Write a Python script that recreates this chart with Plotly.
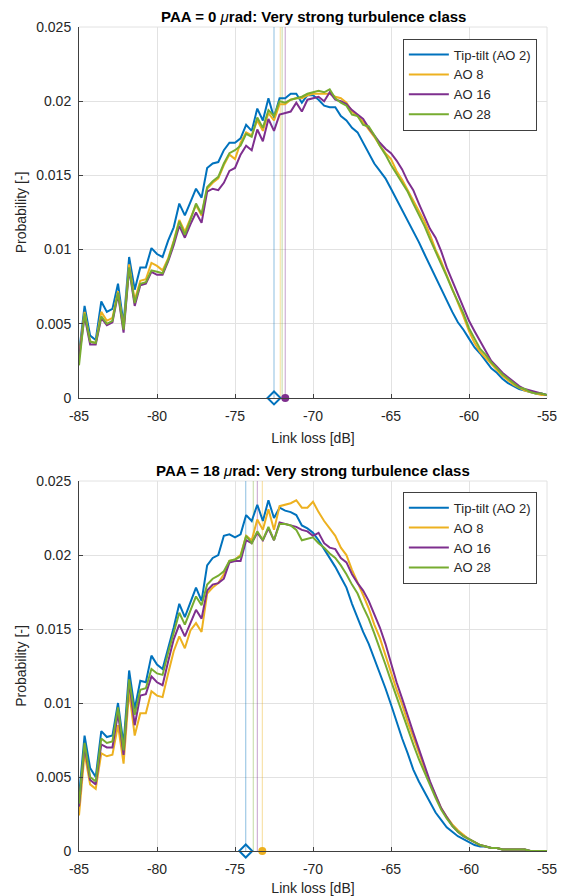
import numpy as np
import plotly.graph_objects as go

# ---------------- data ----------------
bin_start, bin_end, n_bins = -85.0, -55.0, 85
link_loss = np.linspace(bin_start, bin_end, n_bins)

series_names = ["Tip-tilt (AO 2)", "AO 8", "AO 16", "AO 28"]
series_colors = ["#0072BD", "#EDB120", "#7E2F8E", "#77AC30"]

# PAA = 0 urad
top_tiptilt = [0.0030, 0.0062, 0.0042, 0.0039, 0.0065, 0.0058, 0.0060, 0.0077, 0.0050, 0.0095,
               0.0073, 0.0088, 0.0088, 0.0101, 0.0097, 0.0095, 0.0106, 0.0115, 0.0131, 0.0123,
               0.0132, 0.0141, 0.0135, 0.0155, 0.0158, 0.0159, 0.0167, 0.0172, 0.0172, 0.0175,
               0.0184, 0.0180, 0.0195, 0.0187, 0.0202, 0.0189, 0.0202, 0.0202, 0.0205, 0.0205,
               0.0199, 0.0204, 0.0204, 0.0201, 0.0197, 0.0196, 0.0196, 0.0190, 0.0187, 0.0182,
               0.0179, 0.0172, 0.0166, 0.0158, 0.0153, 0.0148, 0.0141, 0.0134, 0.0127, 0.0120,
               0.0112, 0.0105, 0.0097, 0.0089, 0.0081, 0.0073, 0.0065, 0.0058, 0.0051, 0.0046,
               0.0040, 0.0034, 0.0030, 0.0025, 0.0020, 0.0017, 0.0013, 0.0010, 0.0008, 0.0006,
               0.0005, 0.0004, 0.0003, 0.0003, 0.0002]
top_ao8 = [0.0028, 0.0058, 0.0038, 0.0037, 0.0058, 0.0052, 0.0054, 0.0072, 0.0047, 0.0090,
           0.0066, 0.0079, 0.0080, 0.0091, 0.0089, 0.0086, 0.0094, 0.0106, 0.0120, 0.0112,
           0.0121, 0.0130, 0.0123, 0.0141, 0.0145, 0.0148, 0.0157, 0.0164, 0.0161, 0.0172,
           0.0179, 0.0177, 0.0187, 0.0180, 0.0192, 0.0187, 0.0198, 0.0198, 0.0201, 0.0202,
           0.0202, 0.0204, 0.0205, 0.0205, 0.0205, 0.0205, 0.0203, 0.0202, 0.0199, 0.0193,
           0.0190, 0.0186, 0.0181, 0.0176, 0.0170, 0.0165, 0.0161, 0.0153, 0.0147, 0.0140,
           0.0134, 0.0127, 0.0119, 0.0110, 0.0100, 0.0092, 0.0083, 0.0073, 0.0064, 0.0055,
           0.0045, 0.0037, 0.0031, 0.0027, 0.0023, 0.0019, 0.0015, 0.0012, 0.0009, 0.0007,
           0.0005, 0.0004, 0.0003, 0.0002, 0.0002]
top_ao16 = [0.0027, 0.0055, 0.0036, 0.0036, 0.0054, 0.0049, 0.0051, 0.0070, 0.0044, 0.0087,
            0.0062, 0.0076, 0.0077, 0.0085, 0.0083, 0.0083, 0.0092, 0.0103, 0.0116, 0.0108,
            0.0117, 0.0125, 0.0118, 0.0139, 0.0141, 0.0140, 0.0145, 0.0153, 0.0155, 0.0164,
            0.0170, 0.0167, 0.0181, 0.0173, 0.0188, 0.0180, 0.0191, 0.0192, 0.0193, 0.0199,
            0.0193, 0.0201, 0.0202, 0.0203, 0.0200, 0.0206, 0.0201, 0.0200, 0.0198, 0.0194,
            0.0191, 0.0188, 0.0182, 0.0177, 0.0172, 0.0168, 0.0165, 0.0160, 0.0154, 0.0146,
            0.0140, 0.0131, 0.0122, 0.0114, 0.0108, 0.0099, 0.0088, 0.0079, 0.0069, 0.0060,
            0.0052, 0.0045, 0.0038, 0.0031, 0.0025, 0.0021, 0.0017, 0.0014, 0.0011, 0.0008,
            0.0006, 0.0005, 0.0004, 0.0003, 0.0002]
top_ao28 = [0.0022, 0.0057, 0.0038, 0.0037, 0.0055, 0.0050, 0.0052, 0.0071, 0.0046, 0.0088,
            0.0064, 0.0077, 0.0078, 0.0086, 0.0085, 0.0084, 0.0093, 0.0105, 0.0119, 0.0110,
            0.0120, 0.0131, 0.0124, 0.0142, 0.0146, 0.0149, 0.0158, 0.0165, 0.0167, 0.0170,
            0.0178, 0.0176, 0.0189, 0.0182, 0.0194, 0.0190, 0.0200, 0.0199, 0.0201, 0.0202,
            0.0203, 0.0205, 0.0206, 0.0207, 0.0206, 0.0208, 0.0202, 0.0199, 0.0197, 0.0191,
            0.0190, 0.0184, 0.0183, 0.0177, 0.0170, 0.0164, 0.0157, 0.0151, 0.0145, 0.0139,
            0.0131, 0.0124, 0.0116, 0.0107, 0.0099, 0.0091, 0.0082, 0.0073, 0.0065, 0.0057,
            0.0047, 0.0040, 0.0033, 0.0029, 0.0024, 0.0020, 0.0016, 0.0013, 0.0010, 0.0007,
            0.0006, 0.0004, 0.0003, 0.0003, 0.0002]

# PAA = 18 urad
bot_tiptilt = [0.0037, 0.0078, 0.0056, 0.0050, 0.0081, 0.0077, 0.0078, 0.0100, 0.0072, 0.0122,
               0.0096, 0.0115, 0.0114, 0.0132, 0.0126, 0.0123, 0.0137, 0.0151, 0.0167, 0.0158,
               0.0168, 0.0178, 0.0169, 0.0193, 0.0198, 0.0200, 0.0213, 0.0214, 0.0212, 0.0214,
               0.0227, 0.0223, 0.0234, 0.0223, 0.0237, 0.0225, 0.0232, 0.0230, 0.0229, 0.0227,
               0.0220, 0.0218, 0.0215, 0.0210, 0.0204, 0.0198, 0.0192, 0.0185, 0.0178, 0.0167,
               0.0157, 0.0148, 0.0140, 0.0130, 0.0121, 0.0110, 0.0099, 0.0087, 0.0076, 0.0066,
               0.0055, 0.0047, 0.0040, 0.0032, 0.0026, 0.0021, 0.0016, 0.0013, 0.0010, 0.0008,
               0.0006, 0.0004, 0.0003, 0.0003, 0.0002, 0.0002, 0.0001, 0.0001, 0.0001, 0.0001,
               0.0001, 0.0000, 0.0000, 0.0000, 0.0000]
bot_ao8 = [0.0024, 0.0066, 0.0045, 0.0042, 0.0066, 0.0064, 0.0065, 0.0085, 0.0059, 0.0108,
           0.0078, 0.0093, 0.0093, 0.0108, 0.0105, 0.0104, 0.0120, 0.0135, 0.0145, 0.0137,
           0.0149, 0.0154, 0.0148, 0.0174, 0.0178, 0.0181, 0.0187, 0.0196, 0.0197, 0.0200,
           0.0213, 0.0210, 0.0224, 0.0217, 0.0231, 0.0217, 0.0233, 0.0234, 0.0235, 0.0237,
           0.0232, 0.0232, 0.0236, 0.0229, 0.0223, 0.0218, 0.0213, 0.0205, 0.0200, 0.0190,
           0.0182, 0.0173, 0.0164, 0.0153, 0.0144, 0.0132, 0.0121, 0.0109, 0.0099, 0.0087,
           0.0077, 0.0066, 0.0056, 0.0046, 0.0037, 0.0029, 0.0023, 0.0018, 0.0014, 0.0011,
           0.0008, 0.0006, 0.0004, 0.0003, 0.0002, 0.0002, 0.0001, 0.0001, 0.0001, 0.0001,
           0.0001, 0.0000, 0.0000, 0.0000, 0.0000]
bot_ao16 = [0.0030, 0.0071, 0.0048, 0.0045, 0.0072, 0.0070, 0.0070, 0.0093, 0.0065, 0.0115,
            0.0085, 0.0105, 0.0106, 0.0118, 0.0114, 0.0112, 0.0128, 0.0143, 0.0153, 0.0145,
            0.0154, 0.0163, 0.0157, 0.0176, 0.0180, 0.0181, 0.0184, 0.0195, 0.0196, 0.0196,
            0.0210, 0.0208, 0.0215, 0.0210, 0.0218, 0.0210, 0.0222, 0.0221, 0.0220, 0.0219,
            0.0217, 0.0216, 0.0213, 0.0215, 0.0208, 0.0205, 0.0204, 0.0198, 0.0195, 0.0187,
            0.0181, 0.0176, 0.0169, 0.0160, 0.0151, 0.0140, 0.0127, 0.0114, 0.0103, 0.0091,
            0.0080, 0.0069, 0.0058, 0.0047, 0.0038, 0.0029, 0.0023, 0.0017, 0.0013, 0.0010,
            0.0008, 0.0006, 0.0004, 0.0003, 0.0002, 0.0002, 0.0001, 0.0001, 0.0001, 0.0001,
            0.0001, 0.0000, 0.0000, 0.0000, 0.0000]
bot_ao28 = [0.0032, 0.0073, 0.0050, 0.0047, 0.0076, 0.0073, 0.0074, 0.0097, 0.0068, 0.0116,
            0.0092, 0.0109, 0.0110, 0.0123, 0.0120, 0.0119, 0.0134, 0.0147, 0.0161, 0.0153,
            0.0162, 0.0172, 0.0166, 0.0180, 0.0184, 0.0186, 0.0189, 0.0196, 0.0197, 0.0199,
            0.0213, 0.0208, 0.0216, 0.0210, 0.0219, 0.0210, 0.0221, 0.0221, 0.0220, 0.0217,
            0.0210, 0.0211, 0.0212, 0.0208, 0.0205, 0.0201, 0.0198, 0.0193, 0.0187, 0.0180,
            0.0174, 0.0165, 0.0157, 0.0147, 0.0137, 0.0126, 0.0115, 0.0104, 0.0094, 0.0083,
            0.0072, 0.0062, 0.0053, 0.0044, 0.0036, 0.0028, 0.0022, 0.0017, 0.0013, 0.0010,
            0.0008, 0.0006, 0.0004, 0.0003, 0.0002, 0.0002, 0.0001, 0.0001, 0.0001, 0.0001,
            0.0001, 0.0000, 0.0000, 0.0000, 0.0000]

# mean link loss of each series (vertical lines), order = series_names
top_mean_loss = [-72.50, -72.10, -71.78, -71.98]
bot_mean_loss = [-74.31, -73.25, -73.57, -73.83]

# which series gets the "min" (open diamond) and "max" (filled circle) marker
top_min_idx, top_max_idx = 0, 2
bot_min_idx, bot_max_idx = 0, 1

titles = ["PAA = 0 ", "PAA = 18 "]
x_ticks = [-85, -80, -75, -70, -65, -60, -55]
y_ticks = [0, 0.005, 0.01, 0.015, 0.02, 0.025]
y_tick_text = ["0", "0.005", "0.01", "0.015", "0.02", "0.025"]

# ---------------- figure ----------------
FONT = "Liberation Sans, Arial, Helvetica, sans-serif"
TXT = "#262626"
GRID = "#e2e2e2"


def rgba(hex_color, a):
    h = hex_color.lstrip("#")
    r, g, b = int(h[0:2], 16), int(h[2:4], 16), int(h[4:6], 16)
    return f"rgba({r},{g},{b},{a})"


fig = go.Figure()

panels = [
    ("x", "y", "legend", [top_tiptilt, top_ao8, top_ao16, top_ao28], top_mean_loss, top_min_idx, top_max_idx),
    ("x2", "y2", "legend2", [bot_tiptilt, bot_ao8, bot_ao16, bot_ao28], bot_mean_loss, bot_min_idx, bot_max_idx),
]

for xa, ya, leg, data, means, imin, imax in panels:
    # vertical mean lines (drawn first, below curves)
    for k, m in enumerate(means):
        fig.add_trace(go.Scatter(x=[m, m], y=[y_ticks[0], y_ticks[-1]], mode="lines",
                                 line=dict(color=rgba(series_colors[k], 0.45), width=1),
                                 showlegend=False, hoverinfo="skip", xaxis=xa, yaxis=ya))
    for k, vals in enumerate(data):
        fig.add_trace(go.Scatter(x=link_loss, y=vals, mode="lines", name=series_names[k],
                                 line=dict(color=series_colors[k], width=2),
                                 legend=leg, xaxis=xa, yaxis=ya))
    fig.add_trace(go.Scatter(x=[means[imin]], y=[0], mode="markers", showlegend=False,
                             marker=dict(symbol="diamond-open", size=10, color=series_colors[imin],
                                         line=dict(width=2, color=series_colors[imin])),
                             cliponaxis=False, xaxis=xa, yaxis=ya))
    fig.add_trace(go.Scatter(x=[means[imax]], y=[0], mode="markers", showlegend=False,
                             marker=dict(symbol="circle", size=8, color=series_colors[imax]),
                             cliponaxis=False, xaxis=xa, yaxis=ya))

axis_common = dict(showline=True, linecolor="#404040", linewidth=1, mirror=False,
                   ticks="inside", ticklen=4, tickcolor="#404040", automargin=False,
                   showgrid=True, gridcolor=GRID, gridwidth=1, zeroline=False,
                   tickfont=dict(family=FONT, size=14, color=TXT))

xcommon = dict(axis_common, range=[bin_start, bin_end], tickvals=x_ticks,
               ticktext=[str(t) for t in x_ticks], ticklabelstandoff=5,
               title=dict(text="Link loss [dB]", font=dict(family=FONT, size=14, color=TXT), standoff=10))
ycommon = dict(axis_common, range=[y_ticks[0], y_ticks[-1]], tickvals=y_ticks, ticktext=y_tick_text,
               ticklabelstandoff=4,
               title=dict(text="Probability [-]", font=dict(family=FONT, size=14, color=TXT), standoff=6))

top_dom = [0.5498, 1.0]
bot_dom = [0.0, 0.4490]

legend_common = dict(xanchor="left", yanchor="top", bgcolor="white", bordercolor="#404040",
                     borderwidth=1, itemwidth=40, tracegroupgap=0,
                     font=dict(family=FONT, size=13, color=TXT))

fig.update_layout(
    width=562, height=896,
    margin=dict(l=79, r=15, t=27, b=45, autoexpand=False),
    paper_bgcolor="white", plot_bgcolor="white",
    font=dict(family=FONT, size=14, color=TXT),
    xaxis=dict(xcommon, domain=[0, 1], anchor="y"),
    yaxis=dict(ycommon, domain=top_dom, anchor="x"),
    xaxis2=dict(xcommon, domain=[0, 1], anchor="y2"),
    yaxis2=dict(ycommon, domain=bot_dom, anchor="x2"),
    legend=dict(legend_common, x=0.692, y=0.986),
    legend2=dict(legend_common, x=0.692, y=0.436),
    showlegend=True,
)

# panel titles and light top/right frame (grid lines at the limits)
for t, dom, xa, ya in [(titles[0], top_dom, "x", "y"), (titles[1], bot_dom, "x2", "y2")]:
    fig.add_annotation(text=f"<b>{t}</b><i>μ</i><b>rad: Very strong turbulence class</b>",
                       x=0.5, xref="paper", y=dom[1], yref="paper", yanchor="bottom",
                       yshift=0, showarrow=False, font=dict(family=FONT, size=15, color="#000000"))
    fig.add_shape(type="line", xref=f"{xa} domain", yref=f"{ya} domain", x0=0, x1=1, y0=1, y1=1,
                  line=dict(color=GRID, width=1), layer="below")
    fig.add_shape(type="line", xref=f"{xa} domain", yref=f"{ya} domain", x0=1, x1=1, y0=0, y1=1,
                  line=dict(color=GRID, width=1), layer="below")

fig.write_html("out.html")
